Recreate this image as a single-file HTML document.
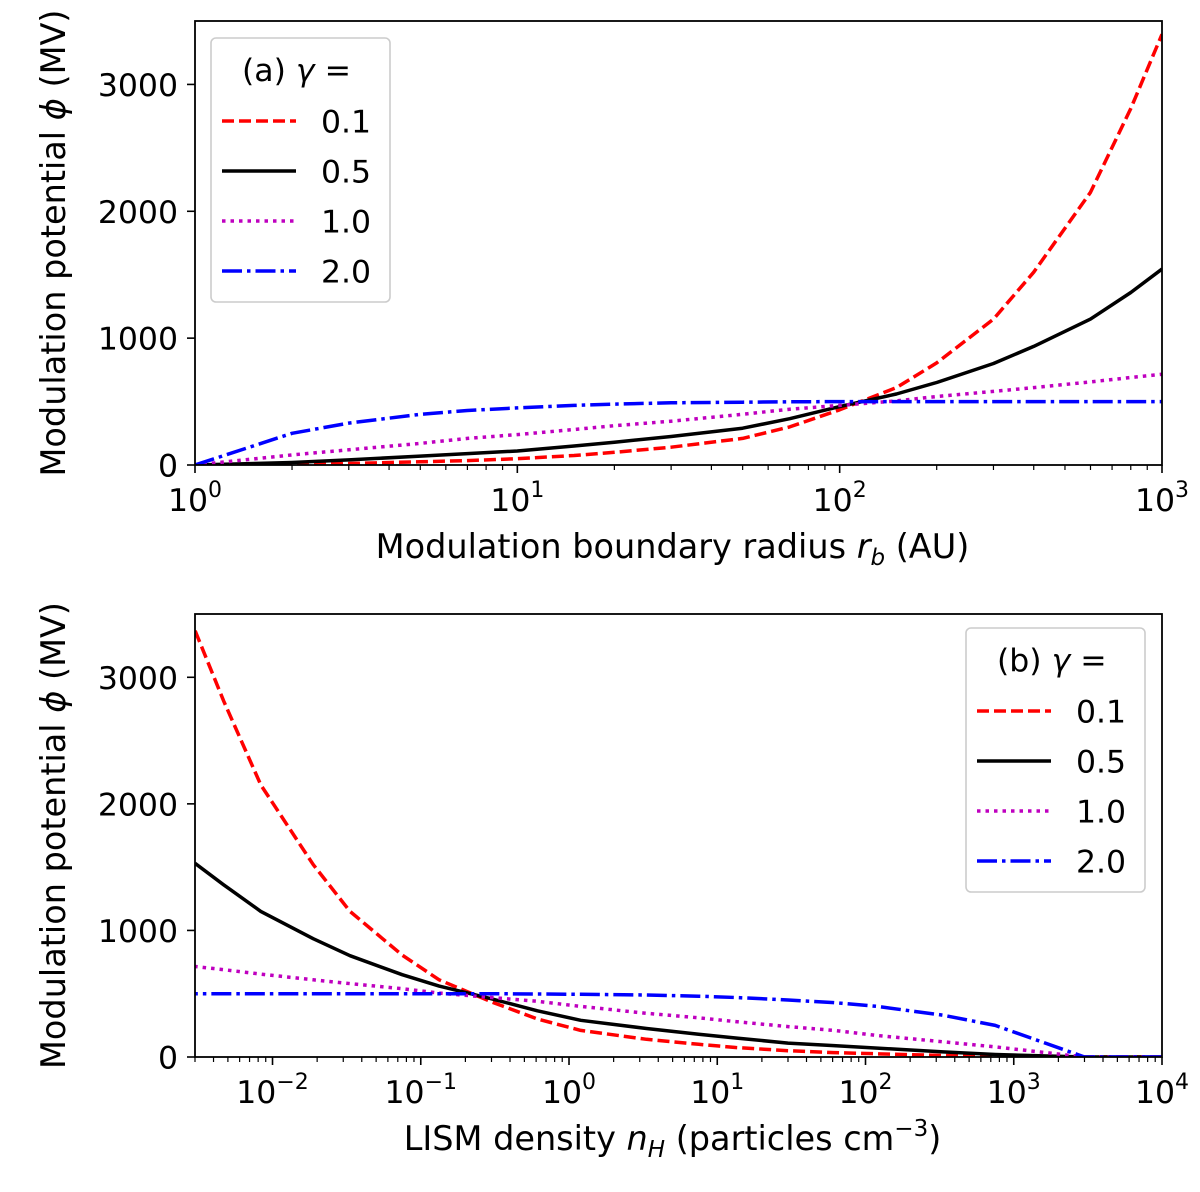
<!DOCTYPE html>
<html><head><meta charset="utf-8"><style>
body{margin:0;background:#fff}
svg text{font-family:"DejaVu Sans","Liberation Sans",sans-serif;fill:#000}
</style></head><body>
<svg id="fig" width="1200" height="1187" viewBox="0 0 1200 1187" xmlns="http://www.w3.org/2000/svg"></svg>
<script>
// Panel (a) data: boundary radius (AU) vs modulation potential (MV)
const rbValues = [1, 2, 3, 5, 7, 10, 15, 20, 30, 50, 70, 100, 150, 200, 300, 400, 600, 800, 1000];
const phiG01 = [0, 5, 12, 25, 35, 50, 75, 100, 140, 210, 300, 435, 610, 805, 1150, 1520, 2150, 2810, 3395];
const phiG05 = [0, 20, 40, 70, 90, 110, 150, 180, 225, 290, 365, 460, 560, 650, 800, 935, 1150, 1360, 1545];
const phiG10 = [0, 80, 120, 170, 210, 240, 280, 310, 345, 400, 440, 470, 505, 540, 580, 610, 655, 690, 715];
const phiG20 = [0, 250, 330, 400, 430, 450, 470, 480, 490, 495, 498, 500, 500, 500, 500, 500, 500, 500, 500];
// Panel (b) data: LISM density (cm^-3)
const nHValues = [10000, 3000, 750, 333, 120, 61.2, 30, 13.3, 7.5, 3.33, 1.2, 0.612, 0.3, 0.133, 0.075, 0.0333, 0.0188, 0.00833, 0.00469, 0.003];
const phiB01 = [0, 0, 5, 12, 25, 35, 50, 75, 100, 140, 210, 300, 435, 610, 805, 1150, 1520, 2150, 2810, 3370];
const phiB05 = [0, 0, 20, 40, 70, 90, 110, 150, 180, 225, 290, 365, 460, 560, 650, 800, 935, 1150, 1360, 1530];
const phiB10 = [0, 0, 80, 120, 170, 210, 240, 280, 310, 345, 400, 440, 470, 505, 540, 580, 610, 655, 690, 715];
const phiB20 = [0, 0, 250, 330, 400, 430, 450, 470, 480, 490, 495, 498, 500, 500, 500, 500, 500, 500, 500, 500];
const yTicks = [0, 1000, 2000, 3000];
const xTicksA = [0, 1, 2, 3];
const xTicksB = [-2, -1, 0, 1, 2, 3, 4];
const legendLabels = ["0.1", "0.5", "1.0", "2.0"];

const NS = "http://www.w3.org/2000/svg";
const svg = document.getElementById("fig");
const FS = 31.5;
const TFS = 33.5;
function mk(tag, attrs, parent) {
  const e = document.createElementNS(NS, tag);
  for (const k in attrs) e.setAttribute(k, attrs[k]);
  (parent || svg).appendChild(e);
  return e;
}
const styles = [
  {stroke: "#ff0000", dash: "12,5"},
  {stroke: "#000000", dash: ""},
  {stroke: "#bf00bf", dash: "3.5,5"},
  {stroke: "#0000ff", dash: "20,5,3.5,5"}
];
const seriesNames = ["gamma-0.1", "gamma-0.5", "gamma-1.0", "gamma-2.0"];

function panel(opts) {
  const {L, R, T, B, xmin, xmax, xVals, series, xTicks, xTitle, letter, leg, name} = opts;
  const g = mk("g", {});
  
  
  const X = v => L + (Math.log10(v) - xmin) / (xmax - xmin) * (R - L);
  const Y = v => B - v / 3500 * (B - T);
  const cp = mk("clipPath", {id: "clip-" + name}, g);
  mk("rect", {x: L, y: T, width: R - L, height: B - T}, cp);
  series.forEach((vals, i) => {
    const pts = vals.map((v, j) => X(xVals[j]).toFixed(1) + "," + Y(v).toFixed(1)).join(" ");
    const pl = mk("polyline", {points: pts, fill: "none", stroke: styles[i].stroke, "stroke-width": 3.5, "stroke-dasharray": styles[i].dash, "stroke-linejoin": "round", "clip-path": "url(#clip-" + name + ")"}, g);
    
    
  });
  const fr = mk("rect", {x: L, y: T, width: R - L, height: B - T, fill: "none", stroke: "#000", "stroke-width": 1.8}, g);
  
  
  yTicks.forEach(t => {
    const y = Y(t);
    mk("line", {x1: L - 8, x2: L, y1: y, y2: y, stroke: "#000", "stroke-width": 1.6}, g);
    const tx = mk("text", {x: L - 17, y: y + 11.5, "font-size": FS, "text-anchor": "end"}, g);
    tx.textContent = t;
    
    
  });
  for (let d = Math.floor(xmin); d <= Math.ceil(xmax); d++) {
    for (let m = 1; m <= 9; m++) {
      const lv = d + Math.log10(m);
      if (lv < xmin - 1e-6 || lv > xmax + 1e-6) continue;
      const x = L + (lv - xmin) / (xmax - xmin) * (R - L);
      mk("line", {x1: x, x2: x, y1: B, y2: B + (m === 1 ? 8 : 5), stroke: "#000", "stroke-width": m === 1 ? 1.6 : 1.2}, g);
    }
  }
  xTicks.forEach(p => {
    const x = X(Math.pow(10, p));
    const tx = mk("text", {x: x, y: B + 46, "font-size": FS, "text-anchor": "middle"}, g);
    
    
    tx.appendChild(document.createTextNode("10"));
    const sp = mk("tspan", {dy: -14, "font-size": 22}, tx);
    sp.textContent = p < 0 ? "\u2212" + (-p) : String(p);
  });
  const yt = mk("text", {x: 0, y: 0, "font-size": TFS, "text-anchor": "middle", transform: "translate(65," + ((T + B) / 2) + ") rotate(-90)"}, g);
  
  
  yt.innerHTML = 'Modulation potential <tspan font-style="italic">ϕ</tspan> (MV)';
  const xt = mk("text", {x: (L + R) / 2 - 6, y: B + 93, "font-size": TFS, "text-anchor": "middle"}, g);
  
  
  xt.innerHTML = xTitle;
  const lg = mk("g", {}, g);
  
  
  mk("rect", {x: leg.x, y: leg.y, width: 179, height: 264, rx: 5, fill: "#fff", stroke: "#ccc", "stroke-width": 1.6}, lg);
  const lt = mk("text", {x: leg.x + 31, y: leg.y + 43, "font-size": FS}, lg);
  lt.innerHTML = '(' + letter + ') <tspan font-style="italic">γ</tspan> =';
  
  
  legendLabels.forEach((lab, i) => {
    const cy = leg.y + 83 + i * 50;
    const e = mk("g", {}, lg);
    
    
    mk("line", {x1: leg.x + 11, x2: leg.x + 85, y1: cy, y2: cy, stroke: styles[i].stroke, "stroke-width": 3.5, "stroke-dasharray": styles[i].dash}, e);
    const t = mk("text", {x: leg.x + 110, y: cy + 11.5, "font-size": FS}, e);
    t.textContent = lab;
  });
}
panel({L: 195, R: 1162, T: 21, B: 465, xmin: 0, xmax: 3, xVals: rbValues,
  series: [phiG01, phiG05, phiG10, phiG20], xTicks: xTicksA,
  xTitle: 'Modulation boundary radius <tspan font-style="italic">r</tspan><tspan font-style="italic" font-size="23" dy="7">b</tspan><tspan dy="-7"> (AU)</tspan>',
  letter: "a", leg: {x: 211, y: 38}, name: "panel-a"});
panel({L: 195, R: 1162, T: 614, B: 1057, xmin: Math.log10(0.003), xmax: 4, xVals: nHValues,
  series: [phiB01, phiB05, phiB10, phiB20], xTicks: xTicksB,
  xTitle: 'LISM density <tspan font-style="italic">n</tspan><tspan font-style="italic" font-size="23" dy="7">H</tspan><tspan dy="-7"> (particles cm</tspan><tspan font-size="23" dy="-14">−3</tspan><tspan dy="14">)</tspan>',
  letter: "b", leg: {x: 966, y: 628}, name: "panel-b"});
</script>
</body></html>
